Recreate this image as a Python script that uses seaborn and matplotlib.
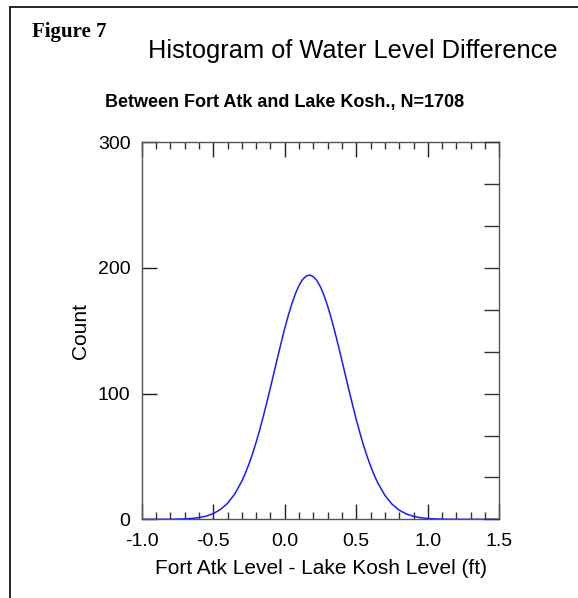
import matplotlib
matplotlib.use('Agg')
import matplotlib.pyplot as plt
from matplotlib.lines import Line2D
from matplotlib.ticker import MultipleLocator, FormatStrFormatter
import numpy as np
import pandas as pd
import seaborn as sns

# level difference (ft) and fitted count
level_diff = [-1.0, -0.95, -0.9, -0.85, -0.8, -0.75, -0.7, -0.65, -0.6, -0.55,
              -0.5, -0.45, -0.4, -0.35, -0.3, -0.275, -0.25, -0.225, -0.2, -0.175,
              -0.15, -0.125, -0.1, -0.075, -0.05, -0.025, 0.0, 0.025, 0.05, 0.075,
              0.1, 0.125, 0.15, 0.175, 0.2, 0.225, 0.25, 0.275, 0.3, 0.325,
              0.35, 0.375, 0.4, 0.425, 0.45, 0.475, 0.5, 0.525, 0.55, 0.575,
              0.6, 0.625, 0.65, 0.7, 0.75, 0.8, 0.85, 0.9, 0.95,
              1.0, 1.05, 1.1, 1.15, 1.2, 1.25, 1.3, 1.35, 1.4, 1.45, 1.5]
counts = [0.0, 0.0, 0.0, 0.03, 0.07, 0.16, 0.35, 0.7, 1.36, 2.5,
          4.5, 7.8, 12.7, 20.1, 30.4, 36.8, 44.1, 52.3, 61.4, 71.3,
          82.0, 93.2, 105.0, 116.9, 128.9, 140.7, 152.0, 162.4, 171.7, 179.7,
          186.2, 190.9, 193.6, 194.4, 193.1, 189.9, 184.8, 178.0, 169.6, 159.9,
          149.3, 137.9, 126.1, 114.1, 102.1, 90.5, 79.3, 68.9, 59.1, 50.3,
          42.3, 35.2, 29.0, 19.1, 12.0, 7.3, 4.2, 2.35, 1.26,
          0.64, 0.32, 0.15, 0.07, 0.03, 0.0, 0.0, 0.0, 0.0, 0.0, 0.0]

fig_title = 'Histogram of Water Level Difference'
sub_title = 'Between Fort Atk and Lake Kosh., N=1708'
x_label = 'Fort Atk Level - Lake Kosh Level (ft)'
y_label = 'Count'

sns.set_style('ticks')
plt.rcParams['font.family'] = ['Liberation Sans', 'DejaVu Sans']
plt.rcParams['text.color'] = 'black'
plt.rcParams['axes.labelcolor'] = 'black'
plt.rcParams['xtick.labelcolor'] = 'black'
plt.rcParams['ytick.labelcolor'] = 'black'

df = pd.DataFrame({'diff': level_diff, 'count': counts})

fig = plt.figure(figsize=(5.78, 5.98), dpi=100)
ax = fig.add_axes([0.2452, 0.1316, 0.6187, 0.6304])

sns.lineplot(data=df, x='diff', y='count', color='#1a1aff', linewidth=1.1, ax=ax)

ax.set_xlim(-1.0, 1.5)
ax.set_ylim(0, 300)
ax.xaxis.set_major_locator(MultipleLocator(0.5))
ax.xaxis.set_minor_locator(MultipleLocator(0.1))
ax.yaxis.set_major_locator(MultipleLocator(100))
ax.xaxis.set_major_formatter(FormatStrFormatter('%.1f'))

for s in ax.spines.values():
    s.set_color('#555555')
    s.set_linewidth(1.0)

ax.tick_params(axis='x', which='major', direction='in', length=11, width=1.0,
               top=True, bottom=True, labelsize=14, pad=10, color='#222222',
               labelcolor='black')
ax.tick_params(axis='x', which='minor', direction='in', length=5, width=1.0,
               top=True, bottom=True, color='#333333')
ax.tick_params(axis='y', which='major', direction='in', length=11, width=1.0,
               left=True, right=False, labelsize=14, pad=8, color='#222222',
               labelcolor='black')

ax2 = ax.twinx()
ax2.set_ylim(0, 300)
ax2.set_yticks(np.arange(0, 301, 100 / 3))
ax2.tick_params(axis='y', direction='in', length=11, width=1.0, labelright=False,
                color='#333333')
for s in ax2.spines.values():
    s.set_visible(False)

ax.set_xlabel(x_label, fontsize=15, labelpad=6, color='black')
ax.set_ylabel(y_label, fontsize=15, labelpad=6, color='black')

fig.text(32 / 578, 1 - 32 / 598, 'Figure 7', family=['Liberation Serif'],
         fontweight='bold', fontsize=15, ha='left', va='center', color='black')
fig.text(353 / 578, 1 - 51 / 598, fig_title, fontsize=18.3, ha='center', va='center',
         color='black')
fig.text(285 / 578, 1 - 102 / 598, sub_title, fontsize=13, fontweight='bold',
         ha='center', va='center', color='black')

# page frame (left and top edges)
fig.add_artist(Line2D([10 / 578, 10 / 578], [0, 1 - 7 / 598], color='black', linewidth=1.2))
fig.add_artist(Line2D([10 / 578, 1], [1 - 7 / 598, 1 - 7 / 598], color='black', linewidth=1.2))

fig.savefig('out.png', dpi=100)
